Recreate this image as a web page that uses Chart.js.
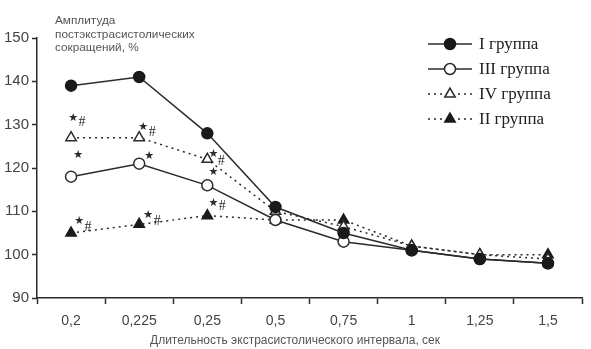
<!DOCTYPE html>
<html>
<head>
<meta charset="utf-8">
<script src="https://cdn.jsdelivr.net/npm/chart.js@4"></script>
<style>
  html, body { margin: 0; padding: 0; background: #fff; }
  #wrap { width: 591px; height: 349px; position: relative; }
</style>
</head>
<body>
<div id="wrap"><canvas id="chart"></canvas></div>
<script>
// длительность экстрасистолического интервала, сек
const intervals = ['0,2', '0,225', '0,25', '0,5', '0,75', '1', '1,25', '1,5'];

// амплитуда постэкстрасистолических сокращений, %
const group1 = [139, 141, 128, 111, 105, 101, 99, 98];
const group3 = [118, 121, 116, 108, 103, 101, 99, 98];
const group4 = [127, 127, 122, 110, 106.5, 102, 100, 99];
const group2 = [105, 107, 109, 108, 108, 102, 100, 100];

// значки достоверности
const marks1 = ['', '', '', '', '', '', '', ''];
const marks3 = ['★', '★', '★', '', '', '', '', ''];
const marks4 = ['★#', '★#', '★#', '', '', '', '', ''];
const marks2 = ['★#', '★#', '★#', '', '', '', '', ''];

const yTicks = [90, 100, 110, 120, 130, 140, 150];

const ink = '#2b2b2b';
const textGray = '#444';

// смещения значков относительно точек: звезда (x, y), решётка (x, y)
const markOffsets = {
  1: [[7, -22], [10, -8], [6, -13]],
  2: [[2, -20, 11, -15], [4, -11, 13, -5], [6, -5, 14, 2]],
  3: [[8, -12, 17, -6], [9, -9, 18, -3], [6, -13, 15, -9]]
};

const marksPlugin = {
  id: 'marks',
  afterDatasetsDraw(chart) {
    const ctx = chart.ctx;
    chart.data.datasets.forEach((ds, di) => {
      const meta = chart.getDatasetMeta(di);
      ds.marks.forEach((m, i) => {
        if (!m) return;
        const p = meta.data[i];
        const off = markOffsets[di][i];
        ctx.save();
        ctx.fillStyle = ink;
        ctx.textBaseline = 'middle';
        ctx.textAlign = 'center';
        ctx.font = '11px "DejaVu Sans"';
        ctx.fillText(m[0], p.x + off[0], p.y + off[1]);
        if (m.length > 1) {
          ctx.font = '14px "Liberation Serif"';
          ctx.fillText(m[1], p.x + off[2], p.y + off[3]);
        }
        ctx.restore();
      });
    });
  }
};

function drawMarker(ctx, ds, x, y) {
  ctx.save();
  ctx.fillStyle = ds.pointBackgroundColor;
  ctx.strokeStyle = ds.pointBorderColor;
  ctx.lineWidth = ds.pointBorderWidth;
  Chart.helpers.drawPoint(ctx, { pointStyle: ds.pointStyle, radius: ds.pointRadius, rotation: 0, borderWidth: ds.pointBorderWidth }, x, y);
  ctx.restore();
}

const legendPlugin = {
  id: 'ownLegend',
  afterDraw(chart) {
    const ctx = chart.ctx;
    const rows = [44, 69, 94, 119];
    chart.data.datasets.forEach((ds, i) => {
      const y = rows[i];
      ctx.save();
      ctx.strokeStyle = ds.borderColor;
      ctx.lineWidth = ds.borderWidth;
      ctx.setLineDash(ds.borderDash || []);
      ctx.beginPath();
      ctx.moveTo(428, y);
      ctx.lineTo(472, y);
      ctx.stroke();
      ctx.restore();
      drawMarker(ctx, ds, 450, y);
      ctx.save();
      ctx.fillStyle = '#222';
      ctx.font = '17px "Liberation Serif"';
      ctx.textBaseline = 'middle';
      ctx.fillText(ds.label, 479, y + 1);
      ctx.restore();
    });
  }
};

const titlesPlugin = {
  id: 'titles',
  afterDraw(chart) {
    const ctx = chart.ctx;
    ctx.save();
    ctx.fillStyle = '#555';
    ctx.font = '11.8px "Liberation Sans"';
    ctx.textBaseline = 'middle';
    ctx.fillText('Амплитуда', 55, 21);
    ctx.fillText('постэкстрасистолических', 55, 35);
    ctx.fillText('сокращений, %', 55, 48);
    ctx.font = '12px "Liberation Sans"';
    ctx.textAlign = 'center';
    ctx.fillText('Длительность экстрасистолического интервала, сек', 295, 341);
    ctx.restore();
  }
};

new Chart(document.getElementById('chart'), {
  type: 'line',
  data: {
    labels: intervals,
    datasets: [
      {
        label: 'I группа', data: group1, marks: marks1,
        borderColor: ink, borderWidth: 1.5,
        pointStyle: 'circle', pointRadius: 5.5, pointBackgroundColor: '#1a1a1a',
        pointBorderColor: '#1a1a1a', pointBorderWidth: 1.5
      },
      {
        label: 'III группа', data: group3, marks: marks3,
        borderColor: ink, borderWidth: 1.5,
        pointStyle: 'circle', pointRadius: 5.5, pointBackgroundColor: '#fff',
        pointBorderColor: ink, pointBorderWidth: 1.5
      },
      {
        label: 'IV группа', data: group4, marks: marks4,
        borderColor: ink, borderWidth: 1.5, borderDash: [2, 4],
        pointStyle: 'triangle', pointRadius: 6, pointBackgroundColor: '#fff',
        pointBorderColor: ink, pointBorderWidth: 1.5
      },
      {
        label: 'II группа', data: group2, marks: marks2,
        borderColor: ink, borderWidth: 1.5, borderDash: [2, 4],
        pointStyle: 'triangle', pointRadius: 6, pointBackgroundColor: '#1a1a1a',
        pointBorderColor: '#1a1a1a', pointBorderWidth: 1.5
      }
    ]
  },
  options: {
    responsive: true,
    maintainAspectRatio: false,
    animation: false,
    layout: { padding: { top: 38, right: 9, left: 0, bottom: 0 } },
    plugins: {
      legend: { display: false },
      tooltip: { enabled: false }
    },
    scales: {
      x: {
        type: 'category',
        offset: true,
        grid: { offset: true, drawOnChartArea: false, drawTicks: true, tickLength: 6, tickColor: ink, tickWidth: 1.5 },
        border: { display: true, color: ink, width: 1.5 },
        ticks: { color: textGray, font: { family: 'Liberation Sans', size: 14 }, padding: 9, maxRotation: 0 },
        afterFit(scale) { scale.height = 51; }
      },
      y: {
        min: 90,
        max: 150,
        afterBuildTicks(scale) { scale.ticks = yTicks.map(v => ({ value: v })); },
        grid: { drawOnChartArea: false, drawTicks: true, tickLength: 5, tickColor: ink, tickWidth: 1.5 },
        border: { display: true, color: ink, width: 1.5 },
        ticks: { color: textGray, font: { family: 'Liberation Sans', size: 15 }, padding: 3 },
        afterFit(scale) { scale.width = 37; }
      }
    }
  },
  plugins: [marksPlugin, legendPlugin, titlesPlugin]
});
</script>
</body>
</html>
